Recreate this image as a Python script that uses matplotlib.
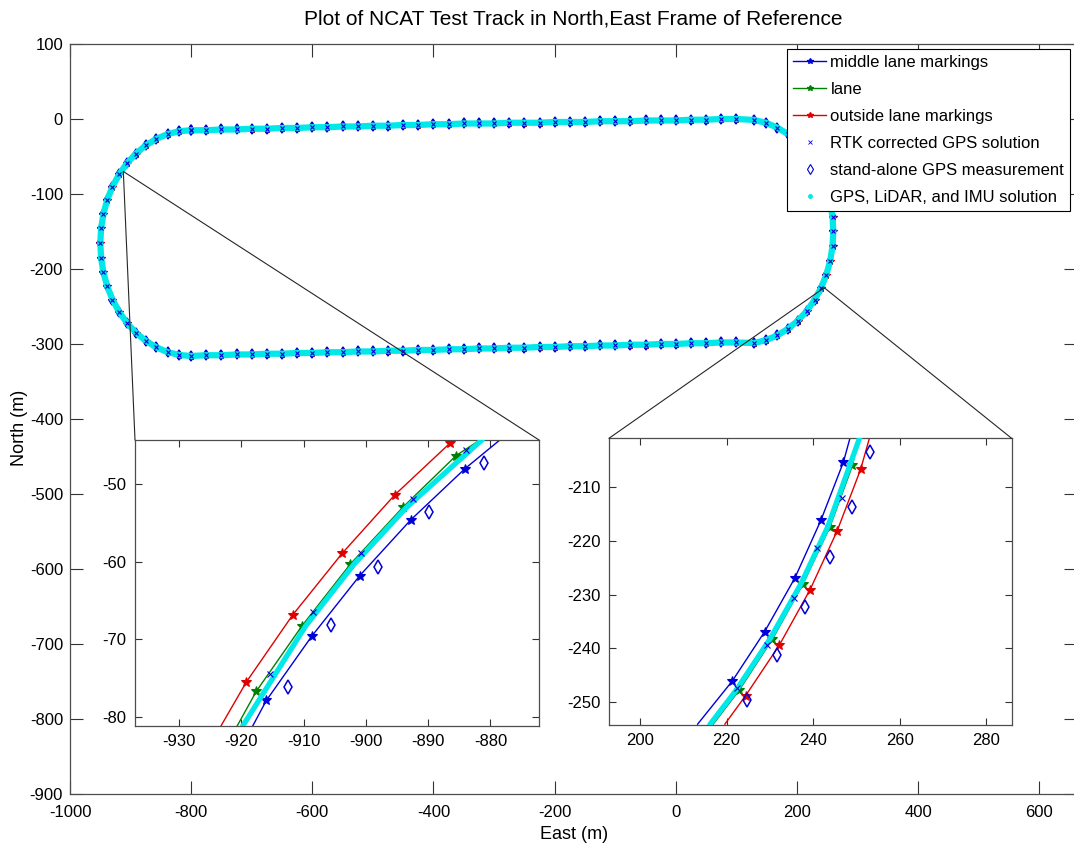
import matplotlib
matplotlib.use("Agg")
import matplotlib.pyplot as plt
from matplotlib.lines import Line2D
from matplotlib.patches import ConnectionPatch

plt.rcParams['font.family'] = ['Liberation Sans', 'DejaVu Sans']
plt.rcParams['axes.unicode_minus'] = False

top_east = [-800, -775, -750, -725, -700, -675, -650, -625, -600, -575, -550, -525,
            -500, -475, -450, -425, -400, -375, -350, -325, -300, -275, -250, -225,
            -200, -175, -150, -125, -100, -75, -50, -25, 0, 25, 50, 75, 100]
top_north = [-15, -15, -14, -14, -13, -13, -12, -12, -11, -11, -10, -10,
             -9, -9, -8, -8, -7, -7, -6, -6, -6, -5, -5, -5,
             -4, -4, -4, -3, -3, -3, -2, -2, -2, -1, -1, 0, 0]
east_curve_e = [129.6, 148.8, 167.4, 185, 201.3, 216.1, 229.0, 239.9, 248.6, 254.9, 258.7,
                260, 258.7, 254.9, 248.6, 239.9, 229.0, 216.1, 201.3, 185, 167.4, 148.8, 129.6]
east_curve_n = [-1.3, -5.1, -11.4, -20.1, -31.0, -43.9, -58.7, -75, -92.6, -111.2, -130.4,
                -150, -169.6, -188.8, -207.4, -225, -241.3, -256.1, -269.0, -279.9, -288.6,
                -294.9, -298.7]
bottom_east = [100, 75, 50, 25, 0, -25, -50, -75, -100, -125, -150, -175,
               -200, -225, -250, -275, -300, -325, -350, -375, -400, -425, -450, -475,
               -500, -525, -550, -575, -600, -625, -650, -675, -700, -725, -750, -775, -800]
bottom_north = [-298, -298, -299, -299, -300, -300, -301, -301, -302, -302, -303, -303,
                -304, -304, -305, -305, -306, -306, -307, -307, -308, -308, -309, -309,
                -310, -310, -311, -311, -312, -312, -313, -313, -314, -314, -315, -315, -316]
west_curve_e = [-819.6, -838.8, -857.4, -875, -891.3, -906.1, -919.0, -929.9, -938.6, -944.9,
                -948.7, -950, -948.7, -944.9, -938.6, -929.9, -919.0, -906.1, -891.3, -875,
                -857.4, -838.8, -819.6]
west_curve_n = [-314.7, -310.9, -304.5, -295.8, -284.9, -271.9, -257.1, -240.8, -223.1, -204.5,
                -185.1, -165.5, -145.9, -126.5, -107.9, -90.2, -73.9, -59.1, -46.1, -35.2,
                -26.5, -20.1, -16.3]

# zoom 1 (west curve); first/last line points run past the box edge
z1_mid_e = [-918.2, -916.0, -908.7, -901.0, -892.8, -884.1, -878.5]
z1_mid_n = [-81.2, -77.9, -69.6, -61.8, -54.6, -48.0, -44.3]
z1_lane_e = [-920.7, -917.6, -910.3, -902.5, -894.1, -885.5, -881.7]
z1_lane_n = [-81.2, -76.7, -68.3, -60.3, -53.0, -46.3, -44.3]
z1_out_e = [-923.3, -919.2, -911.8, -903.8, -895.4, -886.5, -884.0]
z1_out_n = [-81.2, -75.5, -66.9, -58.9, -51.4, -44.7, -42.0]
z1_rtk_e = [-915.4, -908.5, -900.8, -892.5, -884.0]
z1_rtk_n = [-74.5, -66.5, -58.9, -51.9, -45.6]
z1_gps_e = [-912.6, -905.6, -898.0, -889.8, -881.1]
z1_gps_n = [-76.2, -68.2, -60.7, -53.6, -47.3]
z1_fus_e = [-920.5, -919.8, -909.7, -901.9, -893.5, -881.4, -880.0]
z1_fus_n = [-82.5, -81.2, -68.3, -60.3, -53.0, -44.3, -43.0]

# zoom 2 (east curve)
z2_mid_e = [213.3, 221.3, 228.8, 235.8, 241.8, 247.0, 248.5]
z2_mid_n = [-254.1, -246.1, -236.9, -226.9, -216.2, -205.4, -201.0]
z2_lane_e = [216.9, 222.9, 230.6, 237.7, 243.9, 249.1, 250.4]
z2_lane_n = [-254.1, -247.8, -238.3, -228.0, -217.4, -206.0, -201.0]
z2_out_e = [219.6, 224.4, 232.2, 239.3, 245.6, 251.0, 253.0]
z2_out_n = [-254.1, -248.8, -239.4, -229.1, -218.1, -206.7, -201.0]
z2_rtk_e = [222.3, 229.4, 235.7, 241.0, 246.6]
z2_rtk_n = [-247.4, -239.3, -230.7, -221.4, -212.1]
z2_gps_e = [224.8, 231.7, 238.1, 243.9, 248.9, 253.1]
z2_gps_n = [-249.7, -241.3, -232.4, -223.1, -213.7, -203.5]
z2_fus_e = [215.5, 216.2, 222.2, 230.0, 237.2, 243.4, 250.7, 251.5]
z2_fus_n = [-255.5, -254.1, -247.8, -238.3, -228.0, -217.4, -201.0, -199.5]

labels = ['middle lane markings', 'lane', 'outside lane markings',
          'RTK corrected GPS solution', 'stand-alone GPS measurement',
          'GPS, LiDAR, and IMU solution']

BLUE = '#0000d8'
GREEN = '#008000'
RED = '#e00000'
CYAN = '#00e8e8'


def style_axes(a, ticklen, pad):
    a.tick_params(direction='in', length=ticklen, width=0.8, top=True, right=True,
                  labelsize=12, colors='0.2', labelcolor='black', pad=pad)
    for s in a.spines.values():
        s.set_color('0.3')
        s.set_linewidth(0.9)


def draw_set(a, mid, lane, out, rtk, gps, fus, ms_star, ms_dia, lw_fus, every):
    a.plot(*mid, '-', color=BLUE, lw=1.0, marker='*', ms=ms_star, mew=0.8,
           markevery=every, zorder=2)
    a.plot(*lane, '-', color=GREEN, lw=1.0, marker='*', ms=ms_star, mew=0.8,
           markevery=every, zorder=2)
    a.plot(*out, '-', color=RED, lw=1.0, marker='*', ms=ms_star, mew=0.8,
           markevery=every, zorder=2)
    a.plot(*gps, ls='none', marker='d', ms=ms_dia, mfc='none', mec=BLUE, mew=1.1, zorder=2)
    a.plot(*fus, '-', color=CYAN, lw=lw_fus, solid_capstyle='butt', zorder=3)
    a.plot(*rtk, ls='none', marker='x', ms=ms_star * 0.55, color=BLUE, mew=0.8, zorder=4)


fig = plt.figure(figsize=(10.74, 8.46), dpi=100)
ax = fig.add_axes([0.0652, 0.0615, 0.9380, 0.8865])

track_e = top_east + east_curve_e + bottom_east + west_curve_e + top_east[:1]
track_n = top_north + east_curve_n + bottom_north + west_curve_n + top_north[:1]
trk = (track_e, track_n)
draw_set(ax, trk, trk, trk, trk, trk, trk, 5.5, 5.5, 4.5, None)
ax.set_xlim(-1000, 663)
ax.set_ylim(-900, 100)
ax.set_xticks(range(-1000, 601, 200))
ax.set_yticks(range(-900, 101, 100))
style_axes(ax, 9.5, 5)
ax.tick_params(axis='x', pad=8)
ax.set_xlabel('East (m)', fontsize=13, labelpad=4)
ax.set_ylabel('North (m)', fontsize=13)
ax.yaxis.set_label_coords(-0.042, 0.488)
ax.set_title('Plot of NCAT Test Track in North,East Frame of Reference', fontsize=15, pad=14)

handles = [
    Line2D([], [], color=BLUE, lw=1.0, marker='*', ms=4),
    Line2D([], [], color=GREEN, lw=1.0, marker='*', ms=4),
    Line2D([], [], color=RED, lw=1.0, marker='*', ms=4),
    Line2D([], [], ls='none', color=BLUE, marker='x', ms=3, mew=0.6),
    Line2D([], [], ls='none', color=BLUE, marker='d', ms=5, mfc='none', mew=0.8),
    Line2D([], [], ls='none', color=CYAN, marker='.', ms=5),
]
leg = ax.legend(handles, labels, loc='upper right', fontsize=12, frameon=True,
                fancybox=False, edgecolor='black', framealpha=1,
                bbox_to_anchor=(1070 / 1074, 1 - 49 / 846), bbox_transform=fig.transFigure,
                borderaxespad=0, handlelength=2.0, handletextpad=0.25, labelspacing=0.72,
                borderpad=0.35)
leg.get_frame().set_linewidth(0.8)

inner = slice(1, -1)

# inset, west curve
ax1 = fig.add_axes([0.1257, 0.1418, 0.3762, 0.3381])
draw_set(ax1, (z1_mid_e, z1_mid_n), (z1_lane_e, z1_lane_n), (z1_out_e, z1_out_n),
         (z1_rtk_e, z1_rtk_n), (z1_gps_e, z1_gps_n), (z1_fus_e, z1_fus_n), 7.5, 7.5, 3.8, inner)
ax1.set_xlim(-937.1, -872.2)
ax1.set_ylim(-81.2, -44.3)
ax1.set_xticks(range(-930, -879, 10))
ax1.set_yticks(range(-80, -49, 10))
style_axes(ax1, 5, 6)

# inset, east curve
ax2 = fig.add_axes([0.5670, 0.1434, 0.3749, 0.3385])
draw_set(ax2, (z2_mid_e, z2_mid_n), (z2_lane_e, z2_lane_n), (z2_out_e, z2_out_n),
         (z2_rtk_e, z2_rtk_n), (z2_gps_e, z2_gps_n), (z2_fus_e, z2_fus_n), 7.5, 7.5, 3.8, inner)
ax2.set_xlim(192.8, 285.9)
ax2.set_ylim(-254.2, -200.95)
ax2.set_xticks(range(200, 281, 20))
ax2.set_yticks(range(-250, -209, 10))
style_axes(ax2, 5, 6)

# lines from the track to the zoom boxes
for src, inset in (((-912, -70), ax1), ((245, -225), ax2)):
    for corner in ((0, 1), (1, 1)):
        con = ConnectionPatch(xyA=src, coordsA=ax.transData, xyB=corner,
                              coordsB=inset.transAxes, color='0.15', lw=0.8)
        fig.add_artist(con)

fig.savefig('out.png', dpi=100)
